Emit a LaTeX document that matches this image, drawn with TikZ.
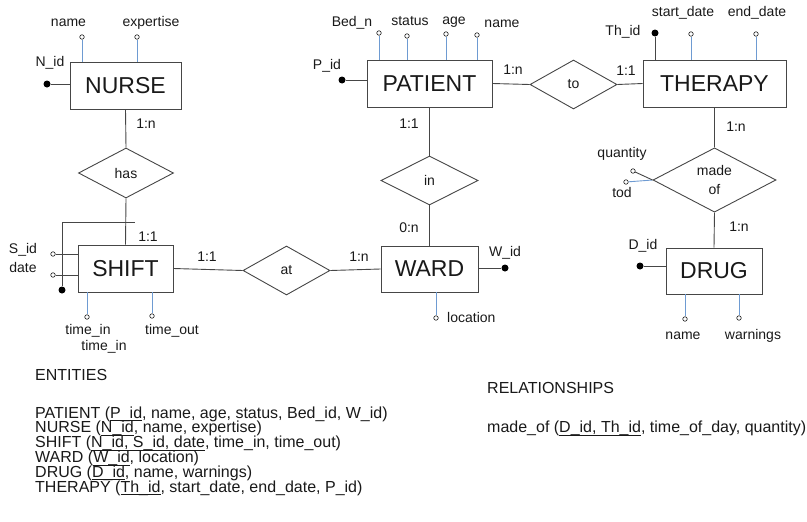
\documentclass[tikz,border=0pt]{standalone}
\usepackage{fontspec}
\setmainfont{Liberation Sans}
\usetikzlibrary{shapes.geometric}
\definecolor{edgegray}{RGB}{70,70,70}
\definecolor{attrblue}{RGB}{110,155,210}
\definecolor{inkblack}{RGB}{25,25,25}
\newcommand{\keyline}[1]{\setbox0\hbox{#1}\rlap{\rule[-2.9pt]{\wd0}{0.7pt}}\box0}
\tikzset{
	entity/.style={draw=edgegray,line width=.9pt,fill=white,inner sep=0pt,font=\fontsize{23}{26}\selectfont,text=inkblack},
	rel/.style={diamond,draw=edgegray,line width=.9pt,inner sep=0pt,font=\fontsize{14}{19}\selectfont,text=inkblack,align=center},
	conn/.style={draw=edgegray,line width=.9pt},
	attrline/.style={draw=attrblue,line width=.9pt},
	attr/.style={circle,draw=inkblack,fill=white,line width=.6pt,inner sep=0pt,minimum size=4.5pt},
	key/.style={circle,fill=black,inner sep=0pt,minimum size=7pt},
	lbl/.style={inner sep=0pt,font=\fontsize{14}{17}\selectfont,text=inkblack},
	txt/.style={inner sep=0pt,anchor=base west,font=\fontsize{16}{15}\selectfont,text=inkblack}
}
\begin{document}
\begin{tikzpicture}[x=1pt,y=-1pt]
			%hospital er schema
			\useasboundingbox (0,0) rectangle (807,522);
			\node [entity,minimum width=111pt,minimum height=47pt] (nurse) at (125.5,85.5) {NURSE};
			\node [entity,minimum width=125pt,minimum height=47pt] (patient) at (429.5,83.5) {PATIENT};
			\node [entity,minimum width=143pt,minimum height=47pt] (therapy) at (714.5,83.5) {THERAPY};
			\node [entity,minimum width=95pt,minimum height=47pt] (shift) at (125.5,268.5) {SHIFT};
			\node [entity,minimum width=97pt,minimum height=46pt] (ward) at (429.5,269) {WARD};
			\node [entity,minimum width=96pt,minimum height=46pt] (drug) at (714,271) {DRUG};
			\node [rel,minimum width=95pt,minimum height=50pt] (has) at (126,173) {has};
			\node [rel,minimum width=97pt,minimum height=49pt] (in) at (429.5,180.5) {in};
			\node [rel,minimum width=87pt,minimum height=49pt] (to) at (573.5,84.5) {to};
			\node [rel,minimum width=87pt,minimum height=49pt] (at) at (286.5,270.5) {at};
			\node [rel,minimum width=123pt,minimum height=54pt] (madeof) at (714.5,180) {made\\of};
			\draw [conn] (nurse.south)--(has.north) (has.south)--(shift.north);
			\draw [conn] (shift.east)--(at.west) (at.east)--(ward.west);
			\draw [conn] (patient.south)--(in.north) (in.south)--(ward.north);
			\draw [conn] (patient.east)--(to.west) (to.east)--(therapy.west);
			\draw [conn] (therapy.south)--(madeof.north) (madeof.south)--(drug.north);
			%attributes
			\node [attr] (nname) at (82,37) {};
			\node [attr] (nexp) at (137,37) {};
			\node [key] (nid) at (47,84) {};
			\node [attr] (pbed) at (379,33) {};
			\node [attr] (pstatus) at (407,36) {};
			\node [attr] (page) at (446,34) {};
			\node [attr] (pname) at (477,35) {};
			\node [key] (pid) at (342,80) {};
			\node [key] (thid) at (655,33) {};
			\node [attr] (tstart) at (691,34) {};
			\node [attr] (tend) at (756,34) {};
			\node [attr] (mqty) at (633,171) {};
			\node [attr] (mtod) at (626,182) {};
			\node [attr] (sid) at (53,254) {};
			\node [attr] (sdate) at (53,275) {};
			\node [key] (skey) at (62,290) {};
			\coordinate (skeyend) at (135,222);
			\node [attr] (stin) at (87,317) {};
			\node [attr] (stout) at (152,316) {};
			\node [key] (wid) at (505,268) {};
			\node [attr] (wloc) at (436,318) {};
			\node [key] (did) at (640,266) {};
			\node [attr] (dname) at (685,319) {};
			\node [attr] (dwarn) at (739,318) {};
			\draw [attrline] (nname)--(nname|-nurse.north) (nexp)--(nexp|-nurse.north);
			\draw [attrline] (pbed)--(pbed|-patient.north) (pstatus)--(pstatus|-patient.north)
				(page)--(page|-patient.north) (pname)--(pname|-patient.north);
			\draw [attrline] (tstart)--(tstart|-therapy.north) (tend)--(tend|-therapy.north);
			\draw [attrline] (mtod)--(madeof.west);
			\draw [attrline] (stin)--(stin|-shift.south) (stout)--(stout|-shift.south);
			\draw [attrline] (wloc)--(wloc|-ward.south);
			\draw [attrline] (dname)--(dname|-drug.south) (dwarn)--(dwarn|-drug.south);
			\draw [conn] (nid)--(nid-|nurse.west) (pid)--(pid-|patient.west)
				(thid)--(thid|-therapy.north) (wid)--(wid-|ward.east) (did)--(did-|drug.west);
			\draw [conn] (mqty)--(madeof.west);
			\draw [conn] (sid)--(sid-|shift.west) (sdate)--(sdate-|shift.west);
			\draw [conn] (skey)|-(skeyend);
			%labels
			\node [lbl] (nnamel) at (68.5,23) {name};
			\node [lbl] (nexpl) at (151,23) {expertise};
			\node [lbl] (nidl) at (50,63) {N\_id};
			\node [lbl] (pbedl) at (352,23) {Bed\_n};
			\node [lbl] (pstatusl) at (410,21) {status};
			\node [lbl] (pagel) at (454,22) {age};
			\node [lbl] (pnamel) at (502,24) {name};
			\node [lbl] (pidl) at (327,66) {P\_id};
			\node [lbl] (thidl) at (623,32) {Th\_id};
			\node [lbl] (tstartl) at (683,13) {start\_date};
			\node [lbl] (tendl) at (757,13) {end\_date};
			\node [lbl] (mqtyl) at (622,154) {quantity};
			\node [lbl] (mtodl) at (622,192) {tod};
			\node [lbl] (sidl) at (23,250) {S\_id};
			\node [lbl] (sdatel) at (23,267) {date};
			\node [lbl] (stinl) at (88,331) {time\_in};
			\node [lbl] (stinm) at (104,347) {time\_in};
			\node [lbl] (stoutl) at (172,331) {time\_out};
			\node [lbl] (widl) at (505,253) {W\_id};
			\node [lbl,anchor=west] (wlocl) at (447,317) {location};
			\node [lbl] (didl) at (643,246) {D\_id};
			\node [lbl] (dnamel) at (683,336) {name};
			\node [lbl] (dwarnl) at (753,336) {warnings};
			%cardinalities
			\node [lbl] (c1) at (146,124) {1:n};
			\node [lbl] (c2) at (148,237) {1:1};
			\node [lbl] (c3) at (207,257) {1:1};
			\node [lbl] (c4) at (359,257) {1:n};
			\node [lbl] (c5) at (409,124) {1:1};
			\node [lbl] (c6) at (409,228) {0:n};
			\node [lbl] (c7) at (513,70) {1:n};
			\node [lbl] (c8) at (626,71) {1:1};
			\node [lbl] (c9) at (736,127) {1:n};
			\node [lbl] (c10) at (739,227) {1:n};
			%schema text
			\node [txt] (enttitle) at (35,380.5) {ENTITIES};
			\node [txt] (ent1) at (35,418) {PATIENT (\keyline{P\_id}, name, age, status, Bed\_id, W\_id)};
			\node [txt] (ent2) at (35,432.8) {NURSE (\keyline{N\_id}, name, expertise)};
			\node [txt] (ent3) at (35,447.6) {SHIFT (\keyline{N\_id, S\_id, date}, time\_in, time\_out)};
			\node [txt] (ent4) at (35,462.4) {WARD (\keyline{W\_id}, location)};
			\node [txt] (ent5) at (35,477.2) {DRUG (\keyline{D\_id}, name, warnings)};
			\node [txt] (ent6) at (35,492) {THERAPY (\keyline{Th\_id}, start\_date, end\_date, P\_id)};
			\node [txt] (reltitle) at (487,393) {RELATIONSHIPS};
			\node [txt] (rel1) at (487,432.8) {made\_of (\keyline{D\_id, Th\_id}, time\_of\_day, quantity)};
		\end{tikzpicture}
\end{document}
